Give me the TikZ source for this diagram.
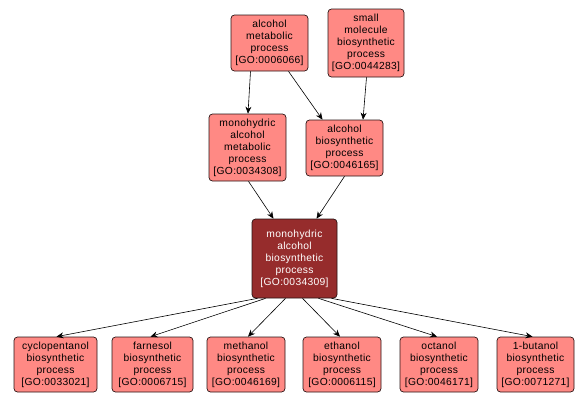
\documentclass[tikz,border=0pt]{standalone}
\usepackage{fontspec}
\setmainfont{Liberation Sans}[LetterSpace=3]
\usepackage{tikz}
\usetikzlibrary{
  arrows.meta,
  positioning
}
\definecolor{goFill}{RGB}{255,137,132}
\definecolor{goDark}{RGB}{150,44,44}
\definecolor{goEdge}{RGB}{40,20,20}
\newcommand{\goid}[1]{[GO:#1]}

\begin{document}
\begin{tikzpicture}[
  x=1pt, y=-1pt,
  font=\fontsize{10.3}{12}\selectfont,
  term/.style={
    rounded corners=3.5pt,
    draw=goEdge,
    line width=0.7pt,
    fill=goFill,
    align=center,
    inner sep=0pt,
    minimum width=77pt,
    minimum height=56pt
  },
  focus/.style={
    term,
    fill=goDark,
    text=white
  },
  arrow/.style={-{Stealth[length=7pt,width=6pt]}, line width=0.6pt, black}
]
\useasboundingbox (0,0) rectangle (588,402);

% top layer
\node[term] (amp) at (269.5,43)
  {alcohol\\metabolic\\process\\\goid{0006066}};
\node[term, minimum width=76pt, minimum height=68pt] (smbp) at (366,43)
  {small\\molecule\\biosynthetic\\process\\\goid{0044283}};

% middle layer
\node[term, minimum height=67pt] (mamp) at (247.5,147.5)
  {monohydric\\alcohol\\metabolic\\process\\\goid{0034308}};
\node[term] (abp) at (344.5,148)
  {alcohol\\biosynthetic\\process\\\goid{0046165}};

% the term itself
\node[focus, minimum width=85pt, minimum height=79pt] (mabp) at (294.5,258.5)
  {monohydric\\alcohol\\biosynthetic\\process\\\goid{0034309}};

% children
\node[term, minimum width=83pt, minimum height=55pt] (cyclo) at (55.5,364.5)
  {cyclopentanol\\biosynthetic\\process\\\goid{0033021}};
\node[term, minimum width=81pt, minimum height=55pt] (farn) at (152.5,364.5)
  {farnesol\\biosynthetic\\process\\\goid{0006715}};
\node[term, minimum width=78pt, minimum height=55pt] (meth) at (246,364.5)
  {methanol\\biosynthetic\\process\\\goid{0046169}};
\node[term, minimum width=78pt, minimum height=55pt] (eth) at (342,364.5)
  {ethanol\\biosynthetic\\process\\\goid{0006115}};
\node[term, minimum width=78pt, minimum height=55pt] (oct) at (439,364.5)
  {octanol\\biosynthetic\\process\\\goid{0046171}};
\node[term, minimum width=77pt, minimum height=55pt] (but) at (535.5,364.5)
  {1-butanol\\biosynthetic\\process\\\goid{0071271}};

\draw[arrow] ([xshift=-19pt]amp.south) -- ([xshift=0.5pt]mamp.north);
\draw[arrow] ([xshift=19pt]amp.south) -- ([xshift=-22pt]abp.north);
\draw[arrow] ([xshift=0.5pt]smbp.south) -- ([xshift=18.5pt]abp.north);
\draw[arrow] ([xshift=1pt]mamp.south) -- ([xshift=-21pt]mabp.north);
\draw[arrow] ([xshift=0pt]abp.south) -- ([xshift=22pt]mabp.north);

\draw[arrow] ([xshift=-37pt]mabp.south) -- ([xshift=1pt]cyclo.north);
\draw[arrow] ([xshift=-29pt]mabp.south) -- ([xshift=-2pt]farn.north);
\draw[arrow] ([xshift=-9pt]mabp.south) -- ([xshift=2pt]meth.north);
\draw[arrow] ([xshift=8pt]mabp.south) -- ([xshift=-2pt]eth.north);
\draw[arrow] ([xshift=24pt]mabp.south) -- ([xshift=-2pt]oct.north);
\draw[arrow] ([xshift=37pt]mabp.south) -- ([xshift=-3pt]but.north);

\end{tikzpicture}
\end{document}
